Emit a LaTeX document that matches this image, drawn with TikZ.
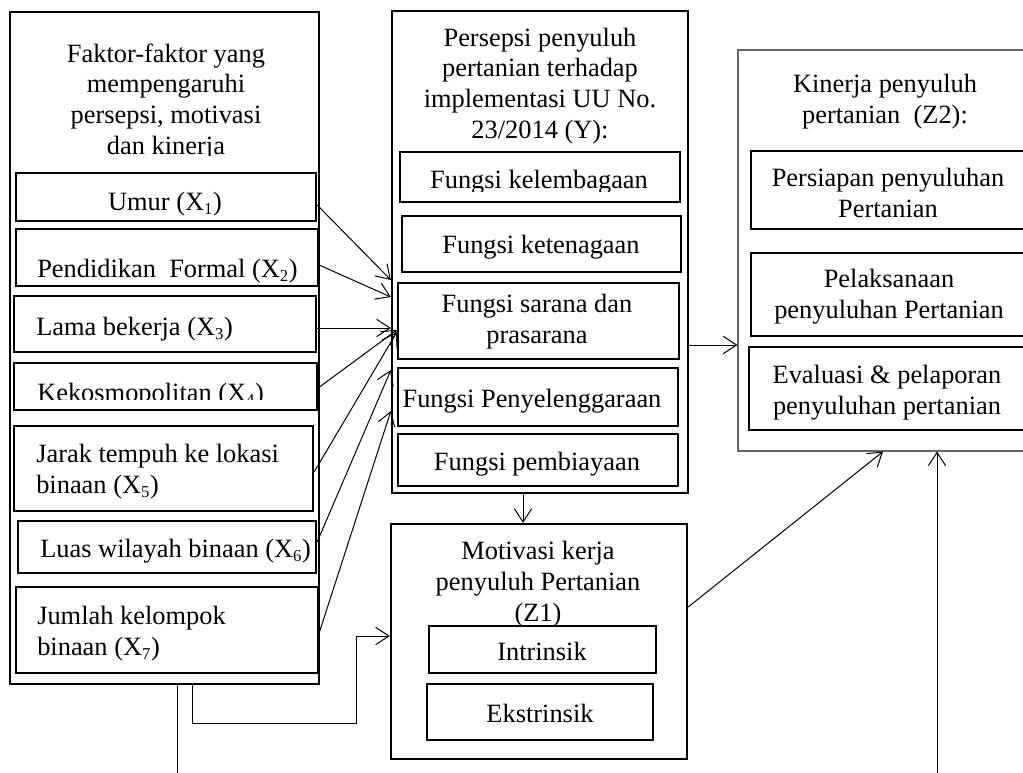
\documentclass[tikz,border=0pt]{standalone}
\usepackage{fontspec}
\setmainfont{Liberation Serif}
\usetikzlibrary{fit,arrows.meta}

\newcommand{\xsub}[1]{\textsubscript{\fontsize{12.5}{12.5}\selectfont #1}}

\tikzset{
  box/.style={draw, line width=1.7pt, fill=white, inner sep=0pt},
  thinbox/.style={draw=gray!80!black, line width=0.8pt, inner sep=0pt},
  txt/.style={inner sep=0pt, align=center, anchor=base, font=\fontsize{19.8}{23}\selectfont},
  ltxt/.style={txt, align=left, anchor=base west},
  conn/.style={line width=0.75pt, -{Straight Barb[length=10pt,width=13pt,line width=0.75pt]}}
}

\begin{document}
\begin{tikzpicture}[x=0.75pt, y=-0.75pt]
    \useasboundingbox (0,0) rectangle (1023,772);
    \clip (0,0) rectangle (1023,772);

    % Outer boxes
    \node[box, fit={(10,12) (319,684)}] (fac) {};
    \node[box, fit={(392,11) (688,493)}] (per) {};
    \node[box, fit={(391,524) (687,759)}] (mot) {};
    \node[thinbox, fit={(738,50) (1040,451)}] (kin) {};

    % Headers (base = last line)
    \begin{scope}
        \clip (10,12) rectangle (319,155);
        \node[txt] (facth) at (166,154) {Faktor-faktor yang\\mempengaruhi\\persepsi, motivasi\\dan kinerja};
    \end{scope}
    \node[txt] (perh) at (540,138) {Persepsi penyuluh\\pertanian terhadap\\implementasi UU No.\\23/2014 (Y):};
    \node[txt] (moth) at (538,621) {Motivasi kerja\\penyuluh Pertanian\\(Z1)};
    \node[txt] (kinh) at (885,123) {Kinerja penyuluh\\pertanian~ (Z2):};

    % Factors X1..X7
    \node[box, fit={(16,173) (316,221)}] (x1) {};
    \node[box, fit={(16,229) (318,286)}] (x2) {};
    \node[box, fit={(14,296) (316,352)}] (x3) {};
    \node[box, fit={(14,363) (317,410)}] (x4) {};
    \node[box, fit={(14,426) (313,511)}] (x5) {};
    \node[box, fit={(18,521) (316,573)}] (x6) {};
    \node[box, fit={(16,587) (318,673)}] (x7) {};
    \node[txt] (x1t) at (165,210) {Umur (X\xsub{1})};
    \node[ltxt] (x2t) at (37,277) {Pendidikan~ Formal (X\xsub{2})};
    \node[ltxt] (x3t) at (36,335) {Lama bekerja (X\xsub{3})};
    \begin{scope}
        \clip (14,363) rectangle (317,399);
        \node[ltxt] (x4t) at (37,401) {Kekosmopolitan (X\xsub{4})};
    \end{scope}
    \node[ltxt] (x5t) at (36,493) {Jarak tempuh ke lokasi\\binaan (X\xsub{5})};
    \node[ltxt] (x6t) at (40,557) {Luas wilayah binaan (X\xsub{6})};
    \node[ltxt] (x7t) at (37,655) {Jumlah kelompok\\binaan (X\xsub{7})};

    % Persepsi (Y)
    \node[box, fit={(400,152) (680,202)}] (y1) {};
    \node[box, fit={(402,216) (681,272)}] (y2) {};
    \node[box, fit={(398,283) (679,359)}] (y3) {};
    \node[box, fit={(398,368) (678,426)}] (y4) {};
    \node[box, fit={(398,434) (678,486)}] (y5) {};
    \begin{scope}
        \clip (400,152) rectangle (680,191);
        \node[txt] (y1t) at (539,188) {Fungsi kelembagaan};
    \end{scope}
    \node[txt] (y2t) at (541,253) {Fungsi ketenagaan};
    \node[txt] (y3t) at (537,343) {Fungsi sarana dan\\prasarana};
    \node[txt] (y4t) at (532,407) {Fungsi Penyelenggaraan};
    \node[txt] (y5t) at (537,470) {Fungsi pembiayaan};

    % Motivasi (Z1)
    \node[box, fit={(429,626) (656,673)}] (z1a) {};
    \node[box, fit={(427,684) (653,740)}] (z1b) {};
    \node[txt] (z1at) at (542,660) {Intrinsik};
    \node[txt] (z1bt) at (540,722) {Ekstrinsik};

    % Kinerja (Z2)
    \node[box, fit={(751,151) (1030,229)}] (z2a) {};
    \node[box, fit={(751,253) (1030,336)}] (z2b) {};
    \node[box, fit={(749,347) (1030,430)}] (z2c) {};
    \node[txt] (z2at) at (888,217) {Persiapan penyuluhan\\Pertanian};
    \node[txt] (z2bt) at (889,318) {Pelaksanaan\\penyuluhan Pertanian};
    \node[txt] (z2ct) at (887,414) {Evaluasi \& pelaporan\\penyuluhan pertanian};

    % Arrows X -> Y
    \draw[conn] (x1.east |- 0,205) -- (per.west |- 0,280);
    \draw[conn] (x2.east |- 0,265) -- (per.west |- 0,297);
    \draw[conn] (x3.east |- 0,328) -- (per.west |- 0,328);
    \draw[conn] (x4.east |- 0,388) -- (y3.west |- 0,330);
    \draw[conn] (x5.east |- 0,472) -- (y3.west |- 0,332);
    \draw[conn] (x6.east |- 0,542) -- (per.west |- 0,370);
    \draw[conn] (x7.east |- 0,633) -- (per.west |- 0,411);

    % Arrows between blocks
    \draw[conn] (per.south -| 523,0) -- (mot.north -| 523,0);
    \draw[conn] (per.east |- 0,345) -- (kin.west |- 0,345);
    \draw[conn] (mot.east |- 0,607) -- (kin.south -| 883,0);
    \draw[conn] (fac.south -| 192,0) -- (192,723) -| (356,636) -- (mot.west |- 0,636);
    \draw[conn] (fac.south -| 177,0) -- (177,820) -| (kin.south -| 937,0);
\end{tikzpicture}
\end{document}
